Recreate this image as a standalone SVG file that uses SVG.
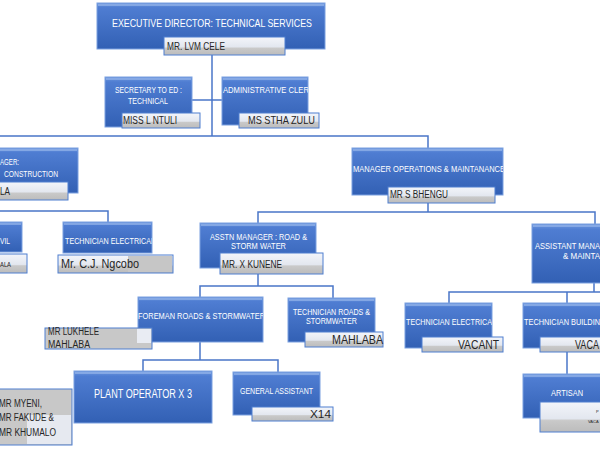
<svg xmlns="http://www.w3.org/2000/svg" width="600" height="450" viewBox="0 0 600 450">
<defs>
<linearGradient id="blue" x1="0" y1="0" x2="0" y2="1">
<stop offset="0" stop-color="#6e98de"/>
<stop offset="0.1" stop-color="#4f7dd2"/>
<stop offset="1" stop-color="#3260b4"/>
</linearGradient>
<linearGradient id="name" x1="0" y1="0" x2="0" y2="1">
<stop offset="0" stop-color="#f3f5fa"/>
<stop offset="0.55" stop-color="#e3e7ef"/>
<stop offset="0.62" stop-color="#c9c9c9"/>
<stop offset="1" stop-color="#bcbcbc"/>
</linearGradient>
<clipPath id="cAdmin"><rect x="222" y="77" width="86" height="48"/></clipPath>
<clipPath id="cTEL"><rect x="63" y="222" width="89" height="31"/></clipPath>
<clipPath id="cOps"><rect x="352" y="148" width="151" height="47"/></clipPath>
<clipPath id="cFore"><rect x="138" y="297" width="125" height="45"/></clipPath>
<clipPath id="cTER"><rect x="405" y="303" width="87" height="45"/></clipPath>
</defs>
<style>
.b{fill:url(#blue);stroke:#7aa0e0;stroke-width:1}
.hl{fill:none;stroke:#9dbbee;stroke-width:1.5;opacity:0.8}
.n{fill:url(#name);stroke:#4f7fd0;stroke-width:1}
.g{fill:#c8c8c8;stroke:#4f7fd0;stroke-width:1}
.t{font-family:"Liberation Sans",Arial,sans-serif;fill:#ffffff}
.k{font-family:"Liberation Sans",Arial,sans-serif;fill:#262626}
.c{fill:none;stroke:#4a76c8;stroke-width:1.5}
</style>
<rect width="600" height="450" fill="#ffffff"/>
<g id="connectors">
<path class="c" d="M212 55 V136"/>
<path class="c" d="M192 100 H222"/>
<path class="c" d="M0 136 H428 V148"/>
<path class="c" d="M0 211 H108 V222"/>
<path class="c" d="M428 203 V212"/>
<path class="c" d="M258 223 V212 H595 V224"/>
<path class="c" d="M258 274 V286"/>
<path class="c" d="M200 297 V286 H333 V298"/>
<path class="c" d="M200 342 V360"/>
<path class="c" d="M143 371 V360 H278 V372"/>
<path class="c" d="M594 283 V292"/>
<path class="c" d="M449 303 V292 H600"/>
<path class="c" d="M567 292 V303"/>
<path class="c" d="M567 352 V374"/>
</g>
<g id="executive-director">
<rect class="b" x="97" y="3" width="228" height="46"/>
<path class="hl" d="M98 5 H324"/>
<text class="t" x="112" y="27" font-size="11.5" textLength="200" lengthAdjust="spacingAndGlyphs">EXECUTIVE DIRECTOR: TECHNICAL SERVICES</text>
<rect class="n" x="164" y="37" width="121" height="18"/>
<text class="k" x="167" y="50" font-size="10.5" textLength="58" lengthAdjust="spacingAndGlyphs">MR. LVM CELE</text>
</g>
<g id="secretary">
<rect class="b" x="105" y="77" width="87" height="50"/>
<path class="hl" d="M106 79 H191"/>
<text class="t" x="115" y="93" font-size="8.3" textLength="67" lengthAdjust="spacingAndGlyphs">SECRETARY TO ED :</text>
<text class="t" x="128" y="104" font-size="8.3" textLength="40" lengthAdjust="spacingAndGlyphs">TECHNICAL</text>
<rect class="n" x="122" y="113" width="78" height="15"/>
<text class="k" x="123" y="124" font-size="10" textLength="54" lengthAdjust="spacingAndGlyphs">MISS L NTULI</text>
</g>
<g id="admin-clerk">
<rect class="b" x="222" y="77" width="86" height="48"/>
<path class="hl" d="M223 79 H307"/>
<text class="t" x="223" y="93" font-size="8.3" textLength="91" lengthAdjust="spacingAndGlyphs" clip-path="url(#cAdmin)">ADMINISTRATIVE  CLERK</text>
<rect class="n" x="239" y="113" width="80" height="15"/>
<text class="k" x="248" y="124" font-size="10.5" textLength="67" lengthAdjust="spacingAndGlyphs">MS STHA ZULU</text>
</g>
<g id="manager-construction">
<rect class="b" x="-5" y="148" width="83" height="45"/>
<path class="hl" d="M-4 150 H77"/>
<text class="t" x="0" y="165" font-size="8.3" textLength="19" lengthAdjust="spacingAndGlyphs">AGER:</text>
<text class="t" x="4" y="177" font-size="8.3" textLength="54" lengthAdjust="spacingAndGlyphs">CONSTRUCTION</text>
<rect class="n" x="-5" y="182" width="73" height="18"/>
<text class="k" x="0" y="195" font-size="10" textLength="10" lengthAdjust="spacingAndGlyphs">LA</text>
</g>
<g id="civil">
<rect class="b" x="-5" y="222" width="27" height="30"/>
<path class="hl" d="M-4 224 H21"/>
<text class="t" x="0" y="244" font-size="8.3" textLength="10" lengthAdjust="spacingAndGlyphs">VIL</text>
<rect class="n" x="-5" y="254" width="32" height="19"/>
<text class="k" x="0" y="267" font-size="8" textLength="11" lengthAdjust="spacingAndGlyphs">ALA</text>
</g>
<g id="technician-electrical-left">
<rect class="b" x="63" y="222" width="89" height="31"/>
<path class="hl" d="M64 224 H151"/>
<text class="t" x="65" y="244" font-size="8.3" textLength="90" lengthAdjust="spacingAndGlyphs" clip-path="url(#cTEL)">TECHNICIAN ELECTRICAL</text>
<rect class="n" x="58" y="255" width="115" height="18"/>
<rect x="128" y="256" width="44" height="16" fill="#c6c6c6"/>
<text class="k" x="61" y="268" font-size="12.5" textLength="78" lengthAdjust="spacingAndGlyphs">Mr. C.J. Ngcobo</text>
</g>
<g id="manager-operations">
<rect class="b" x="352" y="148" width="151" height="47"/>
<path class="hl" d="M353 150 H502"/>
<text class="t" x="353" y="172" font-size="8.3" textLength="152" lengthAdjust="spacingAndGlyphs" clip-path="url(#cOps)">MANAGER OPERATIONS &amp; MAINTANANCE</text>
<rect class="n" x="388" y="187" width="107" height="16"/>
<text class="k" x="390" y="198" font-size="10" textLength="58" lengthAdjust="spacingAndGlyphs">MR S BHENGU</text>
</g>
<g id="assistant-manager-maintenance">
<rect class="b" x="532" y="224" width="75" height="59"/>
<path class="hl" d="M533 226 H606"/>
<text class="t" x="535" y="249" font-size="8.3" textLength="65" lengthAdjust="spacingAndGlyphs">ASSISTANT MANA</text>
<text class="t" x="563" y="259" font-size="8.3" textLength="37" lengthAdjust="spacingAndGlyphs">&amp; MAINTA</text>
</g>
<g id="asstn-manager-roads">
<rect class="b" x="200" y="223" width="116" height="45"/>
<path class="hl" d="M201 225 H315"/>
<text class="t" x="210" y="240" font-size="8.3" textLength="97" lengthAdjust="spacingAndGlyphs">ASSTN MANAGER : ROAD &amp;</text>
<text class="t" x="231" y="249" font-size="8.3" textLength="55" lengthAdjust="spacingAndGlyphs">STORM WATER</text>
<rect class="n" x="220" y="253" width="103" height="21"/>
<text class="k" x="222" y="268" font-size="10.5" textLength="60" lengthAdjust="spacingAndGlyphs">MR. X KUNENE</text>
</g>
<g id="foreman">
<rect class="b" x="138" y="297" width="125" height="45"/>
<path class="hl" d="M139 299 H262"/>
<text class="t" x="138" y="319" font-size="8.3" textLength="127" lengthAdjust="spacingAndGlyphs" clip-path="url(#cFore)">FOREMAN ROADS &amp; STORMWATER</text>
<rect class="g" x="45" y="328" width="107" height="21"/>
<rect x="137" y="329" width="14" height="14" fill="#e9ecf3"/>
<text class="k" x="48" y="335" font-size="10" textLength="51" lengthAdjust="spacingAndGlyphs">MR LUKHELE</text>
<text class="k" x="48" y="348" font-size="10" textLength="42" lengthAdjust="spacingAndGlyphs">MAHLABA</text>
</g>
<g id="technician-roads">
<rect class="b" x="288" y="298" width="87" height="44"/>
<path class="hl" d="M289 300 H374"/>
<text class="t" x="293" y="315" font-size="8.3" textLength="77" lengthAdjust="spacingAndGlyphs">TECHNICIAN ROADS &amp;</text>
<text class="t" x="306" y="324" font-size="8.3" textLength="51" lengthAdjust="spacingAndGlyphs">STORMWATER</text>
<rect class="n" x="305" y="332" width="78" height="15"/>
<text class="k" x="332" y="344" font-size="12.5" textLength="51" lengthAdjust="spacingAndGlyphs">MAHLABA</text>
</g>
<g id="plant-operator">
<rect class="b" x="74" y="371" width="138" height="52"/>
<path class="hl" d="M75 373 H211"/>
<text class="t" x="94" y="398" font-size="12" textLength="98" lengthAdjust="spacingAndGlyphs">PLANT OPERATOR X 3</text>
<rect class="g" x="-5" y="389" width="77" height="56"/>
<rect x="27" y="415" width="44" height="29" fill="#e6e9f0"/>
<text class="k" x="-1" y="407" font-size="10" textLength="43" lengthAdjust="spacingAndGlyphs">MR MYENI,</text>
<text class="k" x="-1" y="421" font-size="10" textLength="55" lengthAdjust="spacingAndGlyphs">MR FAKUDE &amp;</text>
<text class="k" x="-1" y="436" font-size="10" textLength="57" lengthAdjust="spacingAndGlyphs">MR KHUMALO</text>
</g>
<g id="general-assistant">
<rect class="b" x="233" y="372" width="87" height="43"/>
<path class="hl" d="M234 374 H319"/>
<text class="t" x="240" y="394" font-size="8.3" textLength="73" lengthAdjust="spacingAndGlyphs">GENERAL ASSISTANT</text>
<rect class="n" x="252" y="407" width="81" height="14"/>
<text class="k" x="310" y="418" font-size="10.5" textLength="21" lengthAdjust="spacingAndGlyphs">X14</text>
</g>
<g id="technician-electrical-right">
<rect class="b" x="405" y="303" width="87" height="45"/>
<path class="hl" d="M406 305 H491"/>
<text class="t" x="406" y="325" font-size="8.3" textLength="90" lengthAdjust="spacingAndGlyphs" clip-path="url(#cTER)">TECHNICIAN ELECTRICAL</text>
<rect class="n" x="422" y="337" width="81" height="15"/>
<text class="k" x="458" y="349" font-size="12" textLength="41" lengthAdjust="spacingAndGlyphs">VACANT</text>
</g>
<g id="technician-building">
<rect class="b" x="523" y="303" width="85" height="45"/>
<path class="hl" d="M524 305 H607"/>
<text class="t" x="524" y="325" font-size="8.3" textLength="76" lengthAdjust="spacingAndGlyphs">TECHNICIAN BUILDIN</text>
<rect class="n" x="540" y="337" width="65" height="15"/>
<text class="k" x="575" y="349" font-size="12" textLength="24" lengthAdjust="spacingAndGlyphs">VACA</text>
</g>
<g id="artisan">
<rect class="b" x="523" y="374" width="85" height="44"/>
<path class="hl" d="M524 376 H607"/>
<text class="t" x="551" y="396" font-size="8.5" textLength="32" lengthAdjust="spacingAndGlyphs">ARTISAN</text>
<rect class="n" x="540" y="402" width="65" height="30"/>
<text class="k" x="596" y="413" font-size="4">P</text>
<text class="k" x="588" y="423" font-size="4">VACA</text>
</g>
</svg>
